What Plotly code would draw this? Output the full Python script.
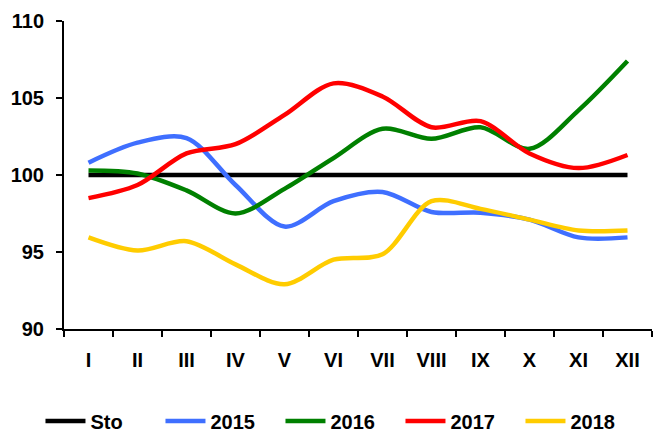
import plotly.graph_objects as go

months = ["I", "II", "III", "IV", "V", "VI", "VII", "VIII", "IX", "X", "XI", "XII"]
sto = [100] * 12
y2015 = [100.8, 102.1, 102.4, 99.35, 96.65, 98.3, 98.9, 97.6, 97.55, 97.1, 95.95, 95.95]
y2016 = [100.3, 100.1, 99.0, 97.5, 99.1, 101.1, 103.0, 102.35, 103.1, 101.7, 104.2, 107.4]
y2017 = [98.5, 99.35, 101.4, 102.0, 103.9, 105.95, 105.1, 103.1, 103.5, 101.4, 100.45, 101.3]
y2018 = [95.95, 95.1, 95.7, 94.2, 92.9, 94.5, 94.85, 98.3, 97.8, 97.1, 96.4, 96.4]

series = [
    ("Sto", sto, "#000000", "linear"),
    ("2015", y2015, "#3F6FFF", "spline"),
    ("2016", y2016, "#008000", "spline"),
    ("2017", y2017, "#FF0000", "spline"),
    ("2018", y2018, "#FFCC00", "spline"),
]

fig = go.Figure()
for name, vals, color, shape in series:
    fig.add_trace(go.Scatter(
        x=months, y=vals, name=name, mode="lines",
        line=dict(color=color, width=4.5, shape=shape, smoothing=0.9),
    ))

FAM = "Arial, Liberation Sans, sans-serif"
font = dict(family=FAM, size=20, color="black", weight="bold")

fig.update_layout(
    width=663, height=432,
    margin=dict(l=64, r=11, t=21, b=103, autoexpand=False),
    paper_bgcolor="white", plot_bgcolor="white",
    font=font,
    showlegend=True,
    legend=dict(orientation="h", x=-0.04, xanchor="left", y=-0.2987, yanchor="middle",
                font=dict(family=FAM, size=20, color="black", weight="bold"),
                itemwidth=40, entrywidth=65, entrywidthmode="pixels", tracegroupgap=0),
    xaxis=dict(
        range=[-0.5, 11.5], automargin=False,
        showline=True, linecolor="black", linewidth=2,
        ticks="outside", ticklen=6, tickwidth=2, tickcolor="black",
        tickson="boundaries", showgrid=False, zeroline=False,
        ticklabelstandoff=12,
        tickfont=dict(family=FAM, size=20, color="black", weight="bold"),
    ),
    yaxis=dict(
        range=[90, 110], dtick=5, automargin=False,
        showline=True, linecolor="black", linewidth=2,
        ticks="outside", ticklen=6, tickwidth=2, tickcolor="black",
        showgrid=False, zeroline=False,
        ticklabelstandoff=8,
        tickfont=dict(family=FAM, size=20, color="black", weight="bold"),
    ),
)

fig.write_html("out.html", config={"displayModeBar": False},
               post_script="document.body.style.margin='0px';")
